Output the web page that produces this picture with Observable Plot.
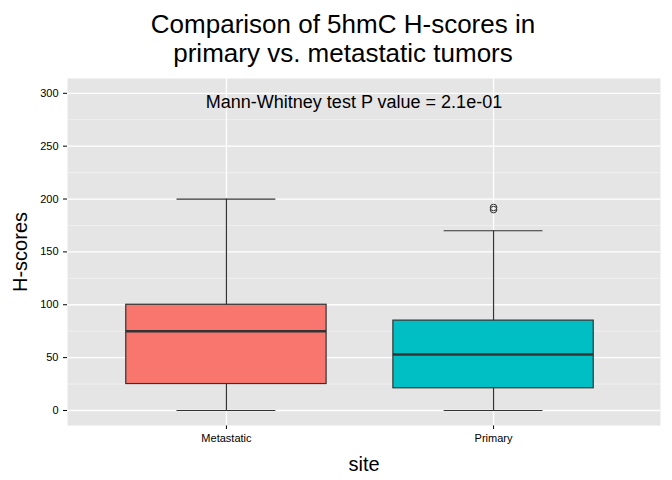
<!DOCTYPE html>
<html><head><meta charset="utf-8">
<script src="https://cdn.jsdelivr.net/npm/d3@7"></script>
<script src="https://cdn.jsdelivr.net/npm/@observablehq/plot@0.6"></script>
<style>
body{margin:0;background:#fff;font-family:"Liberation Sans",Arial,sans-serif}
#title{height:70px;text-align:center;font-size:26px;line-height:29px;padding-top:10px;padding-left:14px;box-sizing:border-box;color:#000}
</style></head><body>
<div id="title">Comparison of 5hmC H-scores in<br>primary vs. metastatic tumors</div>
<div id="chart"></div>
<script>
const sites = ['Metastatic', 'Primary']
const lowWhisker = [0, 0]
const q1 = [25, 21]
const medians = [75, 53]
const q3 = [100, 85]
const highWhisker = [200, 170]
const fills = ['#F8766D', '#00BFC4']
const outliers = [{site: 2, v: 190}, {site: 2, v: 192}]
const pText = 'Mann-Whitney test P value = 2.1e-01'

const boxes = sites.map((s, i) => ({
  site: i + 1, name: s, lo: lowWhisker[i], q1: q1[i], med: medians[i],
  q3: q3[i], hi: highWhisker[i], fill: fills[i]
}))
const half = 0.375

const chart = Plot.plot({
  width: 672, height: 410,
  marginLeft: 67, marginRight: 12, marginTop: 8, marginBottom: 55,
  style: {fontFamily: '"Liberation Sans",Arial,sans-serif', fontSize: '11px', color: '#000'},
  x: {domain: [0.405, 2.625], ticks: [1, 2], tickFormat: d => sites[d - 1], label: 'site', labelAnchor: 'center', labelOffset: 45, tickSize: 4},
  y: {domain: [-14.2, 314], ticks: d3.range(0, 301, 50), label: 'H-scores', labelAnchor: 'center', labelOffset: 55, tickSize: 4},
  marks: [
    Plot.frame({fill: '#E5E5E5', stroke: null}),
    Plot.ruleY(d3.range(25, 301, 50), {stroke: '#F2F2F2', strokeWidth: 0.8}),
    Plot.ruleY(d3.range(0, 301, 50), {stroke: '#fff', strokeWidth: 1.3}),
    Plot.ruleX([1, 2], {stroke: '#fff', strokeWidth: 1.3}),
    Plot.ruleX(boxes, {x: 'site', y1: 'lo', y2: 'hi', stroke: '#333', strokeWidth: 1.2}),
    Plot.rect(boxes, {x1: d => d.site - half, x2: d => d.site + half, y1: 'q1', y2: 'q3', fill: 'fill', stroke: '#333', strokeWidth: 1.2}),
    Plot.ruleY(boxes, {y: 'med', x1: d => d.site - half, x2: d => d.site + half, stroke: '#333', strokeWidth: 2.5}),
    Plot.ruleY(boxes, {y: 'lo', x1: d => d.site - 0.185, x2: d => d.site + 0.185, stroke: '#333', strokeWidth: 1.2}),
    Plot.ruleY(boxes, {y: 'hi', x1: d => d.site - 0.185, x2: d => d.site + 0.185, stroke: '#333', strokeWidth: 1.2}),
    Plot.dot(outliers, {x: 'site', y: 'v', r: 3.3, stroke: '#333', strokeWidth: 1, fill: 'none'}),
    Plot.text([pText], {frameAnchor: 'top', dy: 17, dx: -10, fontSize: 18, fill: '#000'})
  ]
})
d3.select(chart).selectAll('[aria-label="x-axis label"] text, [aria-label="y-axis label"] text')
  .style('font-size', '20px')
  .each(function() { const t = d3.select(this); t.text(t.text().replace(/\s*[→↑]\s*/g, '')) })
d3.select(chart).selectAll('[aria-label="y-axis tick label"] text, [aria-label="x-axis tick label"] text').style('fill', '#000')
d3.select('#chart').append(() => chart)
</script>
</body></html>
